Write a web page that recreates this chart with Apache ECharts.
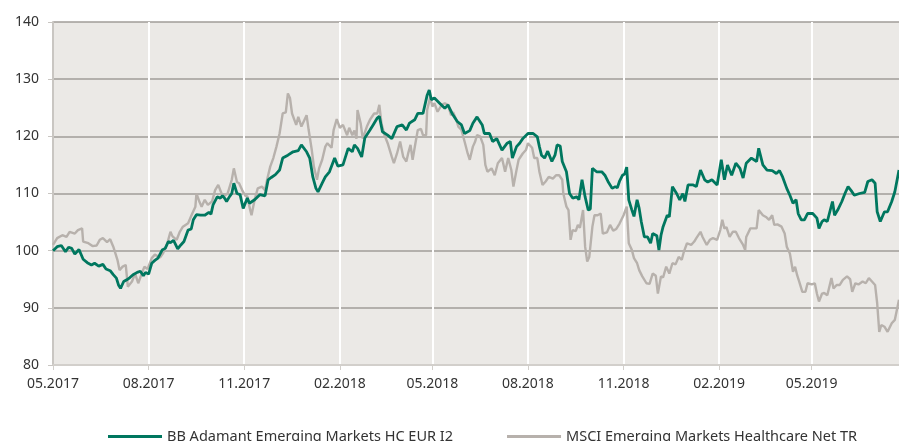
<!DOCTYPE html>
<html>
<head>
<meta charset="utf-8">
<script src="https://cdn.jsdelivr.net/npm/echarts@6/dist/echarts.min.js"></script>
<style>
  html, body { margin: 0; padding: 0; background: #fff; }
  #chart { width: 899px; height: 441px; }
</style>
</head>
<body>
<div id="chart"></div>
<script>
// series names
const fundName = 'BB Adamant Emerging Markets HC EUR I2';
const benchName = 'MSCI Emerging Markets Healthcare Net TR';

// x axis: quarterly ticks
const tickDates = ['2017-05-01', '2017-08-01', '2017-11-01', '2018-02-01', '2018-05-01',
  '2018-08-01', '2018-11-01', '2019-02-01', '2019-05-01'];
const tickLabels = ['05.2017', '08.2017', '11.2017', '02.2018', '05.2018',
  '08.2018', '11.2018', '02.2019', '05.2019'];

// day offsets are counted from this date
const startDate = '2017-05-01';

// fund (green) — days since start / indexed value
const fundDays = [0, 4, 8, 12, 15, 18, 21, 25, 29, 33, 37, 40, 44, 48, 51, 55, 58, 61, 63, 65,
  68, 71, 74, 77, 81, 84, 87, 89, 92, 95, 98, 101, 105, 108, 111, 113, 116, 120, 123, 126,
  130, 133, 135, 138, 142, 146, 150, 152, 154, 158, 161, 163, 165, 167, 170, 172, 174, 177, 180, 183,
  187, 189, 194, 199, 204, 207, 210, 214, 218, 221, 226, 231, 236, 239, 244, 247, 250, 253, 255, 259,
  262, 266, 271, 274, 279, 284, 288, 290, 293, 297, 300, 305, 308, 312, 314, 317, 322, 326, 331, 336,
  340, 343, 348, 351, 356, 360, 362, 364, 367, 372, 377, 380, 384, 389, 393, 396, 401, 404, 408, 413,
  415, 420, 423, 427, 432, 437, 440, 442, 446, 449, 452, 457, 462, 466, 468, 470, 473, 476, 480, 483,
  485, 488, 490, 494, 497, 500, 504, 506, 509, 512, 515, 517, 519, 523, 528, 531, 534, 538, 541, 543,
  545, 548, 550, 552, 554, 557, 559, 562, 564, 566, 569, 572, 575, 577, 581, 583, 585, 587, 591, 593,
  596, 600, 603, 606, 608, 611, 616, 619, 623, 627, 630, 634, 639, 643, 646, 649, 653, 657, 661, 664,
  667, 672, 677, 679, 683, 687, 692, 696, 699, 702, 706, 709, 712, 715, 717, 720, 723, 726, 731, 735,
  737, 740, 742, 745, 750, 752, 755, 759, 762, 765, 768, 771, 776, 781, 784, 788, 791, 793, 796, 800,
  803, 807, 810, 814];
const fundValues = [100.0, 100.7, 100.9, 99.8, 100.6, 100.4, 99.4, 100.2, 98.5, 97.9, 97.5, 97.8, 97.3, 97.6, 96.8, 96.5, 95.8, 95.2, 94.0, 93.4,
  94.6, 94.9, 95.3, 95.8, 96.2, 96.4, 95.6, 96.2, 95.9, 97.8, 98.3, 98.7, 100.1, 100.4, 101.6, 101.4, 101.8, 100.3, 101.0, 101.6,
  103.6, 103.8, 105.4, 106.3, 106.2, 106.2, 106.7, 106.4, 108.0, 109.4, 109.2, 109.6, 109.2, 108.6, 109.5, 110.0, 111.8, 110.0, 109.8, 107.4,
  109.2, 108.3, 108.9, 109.8, 109.6, 112.4, 112.8, 113.3, 114.1, 116.2, 116.7, 117.3, 117.5, 118.5, 117.3, 116.2, 112.9, 110.9, 110.3, 111.8,
  112.9, 113.8, 116.2, 114.8, 115.0, 117.9, 117.3, 118.5, 117.9, 116.4, 119.7, 121.1, 122.0, 123.2, 123.5, 120.8, 120.2, 119.6, 121.7, 122.0,
  121.1, 122.3, 122.9, 124.0, 124.0, 127.2, 128.1, 126.4, 126.7, 125.8, 124.9, 125.5, 124.0, 122.6, 122.0, 120.5, 121.0, 122.3, 123.4, 122.0,
  120.5, 120.5, 119.1, 119.6, 117.6, 118.8, 119.1, 116.2, 118.2, 118.8, 119.6, 120.5, 120.5, 119.9, 118.2, 116.7, 116.2, 117.4, 115.6, 116.7,
  118.5, 118.3, 115.6, 113.8, 110.0, 109.2, 109.4, 108.9, 112.4, 109.4, 107.1, 107.3, 114.4, 113.8, 113.8, 113.2, 112.1, 110.9, 111.2, 111.0,
  112.1, 113.2, 113.4, 114.6, 108.9, 107.1, 106.0, 108.9, 107.4, 105.1, 102.4, 102.4, 101.3, 103.0, 102.6, 100.1, 102.7, 104.2, 106.2, 105.9,
  111.2, 110.0, 108.9, 110.0, 108.6, 111.5, 111.5, 111.2, 114.1, 112.4, 112.0, 112.4, 111.5, 115.9, 112.4, 115.0, 113.2, 115.3, 114.4, 112.7,
  115.3, 116.2, 115.6, 117.9, 115.0, 114.1, 114.0, 113.5, 114.0, 112.9, 110.9, 109.7, 108.3, 108.9, 106.5, 105.4, 105.4, 106.5, 106.5, 105.7,
  103.9, 105.1, 105.4, 105.1, 108.6, 106.2, 107.1, 108.6, 110.0, 111.2, 110.5, 109.7, 110.0, 110.2, 112.1, 112.4, 111.8, 106.8, 105.1, 106.8,
  106.8, 108.6, 110.3, 114.1];

// benchmark (grey)
const benchDays = [0, 4, 9, 13, 16, 21, 24, 28, 29, 34, 38, 42, 45, 48, 52, 55, 58, 62, 64, 67,
  70, 72, 76, 79, 82, 86, 88, 91, 95, 98, 103, 106, 110, 113, 115, 119, 122, 125, 130, 134,
  137, 138, 141, 143, 146, 149, 153, 156, 159, 163, 165, 168, 172, 174, 177, 179, 182, 185, 187, 189,
  191, 194, 197, 201, 204, 206, 209, 212, 215, 218, 221, 224, 226, 228, 230, 234, 236, 239, 240, 244,
  246, 249, 251, 254, 256, 259, 262, 264, 268, 270, 273, 276, 279, 283, 285, 288, 290, 292, 293, 296,
  298, 302, 305, 309, 312, 314, 316, 319, 322, 326, 328, 331, 334, 337, 340, 342, 344, 346, 349, 351,
  354, 356, 359, 360, 363, 365, 367, 370, 374, 377, 380, 383, 385, 388, 390, 393, 396, 399, 401, 404,
  406, 408, 411, 414, 416, 418, 422, 425, 428, 432, 435, 438, 441, 443, 446, 448, 452, 455, 457, 461,
  463, 466, 468, 471, 474, 477, 481, 484, 487, 490, 491, 494, 496, 498, 500, 503, 505, 507, 510, 512,
  514, 516, 519, 521, 524, 527, 529, 533, 536, 539, 542, 545, 549, 552, 554, 557, 559, 562, 564, 567,
  571, 574, 577, 580, 582, 585, 587, 590, 593, 596, 599, 602, 605, 607, 610, 614, 617, 619, 623, 625,
  629, 632, 635, 639, 642, 644, 646, 648, 651, 654, 657, 660, 664, 666, 667, 671, 674, 677, 679, 683,
  686, 689, 692, 694, 697, 701, 704, 706, 709, 712, 714, 716, 718, 721, 724, 726, 730, 733, 735, 737,
  740, 742, 745, 749, 751, 754, 757, 760, 764, 767, 769, 772, 775, 779, 782, 785, 788, 791, 793, 795,
  797, 800, 803, 807, 810, 814];
const benchValues = [101.0, 102.2, 102.7, 102.4, 103.3, 103.0, 103.6, 103.9, 101.6, 101.3, 100.8, 100.9, 101.9, 102.2, 101.5, 102.0, 100.7, 98.4, 96.6, 97.2,
  97.5, 93.7, 94.6, 96.0, 94.3, 96.3, 97.2, 96.8, 98.7, 99.3, 98.8, 99.6, 101.3, 103.3, 102.5, 101.9, 103.3, 104.2, 104.8, 106.5,
  107.7, 110.0, 108.5, 107.7, 108.9, 108.0, 108.6, 110.6, 111.5, 109.6, 109.6, 110.0, 112.4, 114.4, 112.0, 111.8, 110.6, 109.6, 109.5, 107.7,
  106.2, 108.9, 110.9, 111.2, 110.6, 112.4, 114.7, 116.2, 118.2, 120.5, 124.0, 124.2, 127.5, 126.7, 124.0, 122.0, 123.4, 121.7, 121.6, 123.7,
  121.1, 117.6, 114.7, 112.4, 114.4, 115.9, 118.2, 118.8, 118.0, 121.1, 123.0, 121.5, 122.0, 120.2, 121.5, 120.2, 121.0, 119.6, 124.6, 122.3,
  119.6, 121.7, 122.9, 124.0, 124.0, 125.5, 122.3, 120.2, 118.8, 116.4, 115.3, 117.0, 119.1, 116.4, 115.6, 117.2, 118.5, 115.9, 119.1, 121.1,
  121.3, 120.2, 120.2, 124.6, 126.9, 125.2, 125.8, 124.3, 125.5, 125.8, 125.5, 123.7, 124.2, 122.9, 121.7, 121.1, 119.1, 117.0, 115.9, 118.2,
  119.0, 120.2, 120.0, 118.5, 115.0, 113.8, 114.4, 113.2, 115.3, 116.2, 113.8, 116.2, 114.1, 111.2, 114.1, 115.9, 117.0, 117.6, 118.8, 118.0,
  116.2, 116.2, 113.8, 111.5, 112.1, 112.9, 112.6, 113.2, 113.2, 112.4, 110.0, 107.7, 107.1, 101.9, 103.6, 103.4, 104.5, 104.0, 107.1, 100.7,
  98.1, 98.9, 104.2, 106.2, 106.2, 106.5, 103.0, 103.2, 104.5, 103.5, 103.8, 104.7, 106.2, 107.7, 101.3, 100.1, 98.7, 97.8, 96.6, 95.5,
  94.3, 94.2, 96.0, 95.6, 92.5, 95.5, 95.3, 97.2, 96.0, 97.8, 97.6, 98.9, 98.4, 99.8, 101.3, 101.0, 101.6, 102.2, 103.3, 102.4,
  101.0, 101.9, 102.2, 101.9, 103.6, 105.4, 103.9, 104.1, 102.4, 103.3, 103.3, 102.2, 101.0, 100.1, 102.4, 103.9, 103.9, 103.9, 107.1, 106.2,
  105.9, 105.4, 106.2, 104.5, 104.6, 104.2, 103.0, 100.7, 99.5, 96.3, 97.2, 95.7, 94.6, 92.8, 92.8, 94.3, 94.1, 94.3, 92.5, 91.1,
  92.5, 92.6, 92.2, 95.2, 93.4, 94.0, 94.0, 94.9, 95.5, 95.0, 92.8, 94.3, 94.1, 94.6, 94.3, 95.2, 94.6, 94.0, 90.8, 85.8,
  87.0, 86.7, 85.8, 87.3, 87.9, 91.4];

function toTime(s, addDays) {
  const p = s.split('-');
  return new Date(+p[0], +p[1] - 1, +p[2] + (addDays || 0)).getTime();
}

function buildSeries(days, values) {
  return days.map(function (d, i) {
    return [toTime(startDate, d), values[i]];
  });
}

const tickTimes = tickDates.map(function (s) { return toTime(s); });

const chart = echarts.init(document.getElementById('chart'), null, { renderer: 'canvas' });

const textFont = '"Noto Sans", "DejaVu Sans", sans-serif';

chart.setOption({
  animation: false,
  backgroundColor: '#ffffff',
  textStyle: { fontFamily: textFont },
  grid: {
    left: 53,
    right: 0,
    top: 22,
    bottom: 76,
    show: true,
    backgroundColor: '#ebe9e6',
    borderWidth: 0
  },
  legend: {
    data: [fundName, benchName],
    left: 103,
    top: 424,
    icon: 'rect',
    itemWidth: 54,
    itemHeight: 3,
    itemGap: 54,
    textStyle: { fontSize: 14.5, color: '#333', fontFamily: textFont }
  },
  xAxis: {
    // dates as timestamps on a numeric scale, ticks placed at the quarter starts
    type: 'value',
    min: 'dataMin',
    max: 'dataMax',
    axisLine: { show: true, lineStyle: { color: '#d2cfcb', width: 2 } },
    axisTick: {
      show: true,
      customValues: tickTimes,
      length: 5,
      lineStyle: { color: '#d2cfcb', width: 1 }
    },
    axisLabel: {
      customValues: tickTimes,
      color: '#333',
      fontSize: 14,
      margin: 12,
      formatter: function (val) {
        const idx = tickTimes.indexOf(val);
        return idx >= 0 ? tickLabels[idx] : '';
      }
    },
    splitLine: { show: true, lineStyle: { color: '#ffffff', width: 2 } }
  },
  yAxis: {
    type: 'value',
    min: 80,
    max: 140,
    interval: 10,
    axisLine: { show: true, lineStyle: { color: '#c9c6c2', width: 2 } },
    axisTick: { show: true, length: 5, lineStyle: { color: '#c9c6c2' } },
    axisLabel: { color: '#333', fontSize: 14, margin: 14 },
    splitLine: { show: true, lineStyle: { color: '#a19d99', width: 1.5 } }
  },
  series: [
    {
      name: benchName,
      type: 'line',
      symbol: 'none',
      z: 2,
      lineStyle: { color: '#b7b1ac', width: 2.4 },
      itemStyle: { color: '#b7b1ac' },
      data: buildSeries(benchDays, benchValues)
    },
    {
      name: fundName,
      type: 'line',
      symbol: 'none',
      z: 3,
      lineStyle: { color: '#00775f', width: 2.8 },
      itemStyle: { color: '#00775f' },
      data: buildSeries(fundDays, fundValues)
    }
  ]
});
</script>
</body>
</html>
